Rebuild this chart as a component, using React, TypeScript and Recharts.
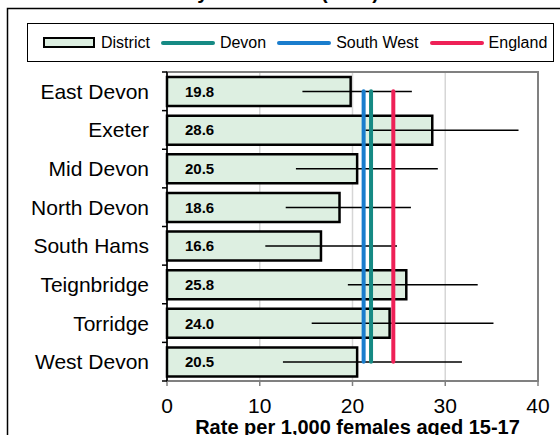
import {
  ComposedChart,
  Bar,
  Line,
  XAxis,
  YAxis,
  CartesianGrid,
  Legend,
  ErrorBar,
  LabelList,
  ReferenceArea,
  Customized,
} from "recharts";

const FONT = "'Liberation Sans', Arial, sans-serif";

const DISTRICTS = [
  "East Devon",
  "Exeter",
  "Mid Devon",
  "North Devon",
  "South Hams",
  "Teignbridge",
  "Torridge",
  "West Devon",
];
const RATES = [19.8, 28.6, 20.5, 18.6, 16.6, 25.8, 24.0, 20.5];
const CI_LOW = [14.6, 21.4, 13.9, 12.8, 10.6, 19.5, 15.6, 12.5];
const CI_HIGH = [26.4, 37.9, 29.2, 26.3, 24.8, 33.5, 35.2, 31.8];

const DEVON = 22.0;
const SOUTH_WEST = 21.2;
const ENGLAND = 24.4;

const X_TICKS = [0, 10, 20, 30, 40];
const LEGEND_ORDER = ["District", "Devon", "South West", "England"];

const COLORS = {
  district: "#DDEFE1",
  devon: "#168A84",
  southWest: "#1A7DCD",
  england: "#EE2157",
};

const rows = DISTRICTS.map((name, i) => ({
  district: name,
  rate: RATES[i],
  ci: [RATES[i] - CI_LOW[i], CI_HIGH[i] - RATES[i]],
  devon: DEVON,
  southWest: SOUTH_WEST,
  england: ENGLAND,
}));

// plot box
const PLOT_TOP = 72;
const PLOT_BOTTOM = 381;
const BAND = (PLOT_BOTTOM - PLOT_TOP) / DISTRICTS.length;

function CategoryTick(props: any) {
  const { x, y, payload, index } = props;
  const axisX = x + 18;
  const last = index === DISTRICTS.length - 1;
  return (
    <g>
      <line x1={axisX - 5} x2={axisX} y1={y - BAND / 2} y2={y - BAND / 2} stroke="#000" strokeWidth={1.5} />
      {last && (
        <line x1={axisX - 5} x2={axisX} y1={y + BAND / 2} y2={y + BAND / 2} stroke="#000" strokeWidth={1.5} />
      )}
      <text x={x} y={y} dy="0.355em" textAnchor="end" fontSize={21} fontFamily={FONT} fill="#000">
        {payload.value}
      </text>
    </g>
  );
}

function LegendBox(props: any) {
  const items = [...(props.payload || [])].sort(
    (a: any, b: any) => LEGEND_ORDER.indexOf(a.value) - LEGEND_ORDER.indexOf(b.value)
  );
  return (
    <div style={{ paddingBottom: 10 }}>
      <div
        style={{
          boxSizing: "border-box",
          height: 39,
          border: "1.5px solid #000",
          display: "flex",
          alignItems: "center",
          paddingLeft: 15,
          fontSize: 16,
          fontFamily: FONT,
          color: "#000",
          background: "#fff",
          whiteSpace: "nowrap",
        }}
      >
        {items.map((item: any) => (
          <span key={item.value} style={{ display: "flex", alignItems: "center", marginRight: 11 }}>
            {item.value === "District" ? (
              <span
                style={{
                  boxSizing: "border-box",
                  width: 52,
                  height: 11,
                  border: "2.5px solid #000",
                  background: COLORS.district,
                  marginRight: 6,
                }}
              />
            ) : (
              <span
                style={{
                  width: 54,
                  height: 4,
                  borderRadius: 2,
                  background: item.color,
                  marginRight: 5,
                }}
              />
            )}
            {item.value}
          </span>
        ))}
      </div>
    </div>
  );
}

function Frame() {
  return (
    <g>
      <rect x={7.5} y={8.5} width={560} height={440} fill="none" stroke="#000" strokeWidth={1.5} />
      <text x={185} y={-1} fontSize={20} fontWeight="bold" fontFamily={FONT} fill="#000">
        by Local Area (2007)
      </text>
    </g>
  );
}

export default function App() {
  return (
    <div style={{ position: "absolute", left: 0, top: 0, width: 560, height: 435, background: "#fff" }}>
      <ComposedChart
        width={560}
        height={435}
        layout="vertical"
        data={rows}
        margin={{ top: 23, right: 22, bottom: 24, left: 0 }}
      >
        <Customized component={<Frame />} />
        <CartesianGrid horizontal={false} stroke="#D6D6D6" strokeWidth={1.5} />
        <ReferenceArea x1={0} x2={40} fill="none" stroke="#808080" strokeWidth={2} />
        <XAxis
          type="number"
          domain={[0, 40]}
          ticks={X_TICKS}
          height={30}
          tickSize={5}
          tickMargin={12}
          axisLine={{ stroke: "#808080", strokeWidth: 2 }}
          tickLine={{ stroke: "#808080", strokeWidth: 1.5 }}
          tick={{ fontSize: 21, fill: "#000", fontFamily: FONT }}
          label={{
            value: "Rate per 1,000 females aged 15-17",
            position: "bottom",
            offset: 9,
            dx: 5,
            fontSize: 20,
            fontWeight: "bold",
            fill: "#000",
            fontFamily: FONT,
          }}
        />
        <YAxis
          type="category"
          dataKey="district"
          width={167}
          tickSize={5}
          tickMargin={13}
          tickLine={false}
          axisLine={{ stroke: "#000", strokeWidth: 1.5 }}
          tick={<CategoryTick />}
          interval={0}
        />
        <Legend verticalAlign="top" content={<LegendBox />} wrapperStyle={{ top: 23, left: 27, width: 527 }} />
        <Bar
          dataKey="rate"
          name="District"
          barSize={29}
          fill={COLORS.district}
          stroke="#000"
          strokeWidth={2.5}
          isAnimationActive={false}
        >
          <ErrorBar dataKey="ci" direction="x" width={0} stroke="#000" strokeWidth={1.5} isAnimationActive={false} />
          <LabelList
            dataKey="rate"
            position="insideLeft"
            offset={18}
            formatter={(v: any) => Number(v).toFixed(1)}
            style={{ fontSize: 15, fontWeight: "bold", fill: "#000", fontFamily: FONT }}
          />
        </Bar>
        <Line dataKey="devon" name="Devon" stroke={COLORS.devon} strokeWidth={4} strokeLinecap="round" dot={false} legendType="line" isAnimationActive={false} />
        <Line dataKey="southWest" name="South West" stroke={COLORS.southWest} strokeWidth={4} strokeLinecap="round" dot={false} legendType="line" isAnimationActive={false} />
        <Line dataKey="england" name="England" stroke={COLORS.england} strokeWidth={4} strokeLinecap="round" dot={false} legendType="line" isAnimationActive={false} />
      </ComposedChart>
    </div>
  );
}
